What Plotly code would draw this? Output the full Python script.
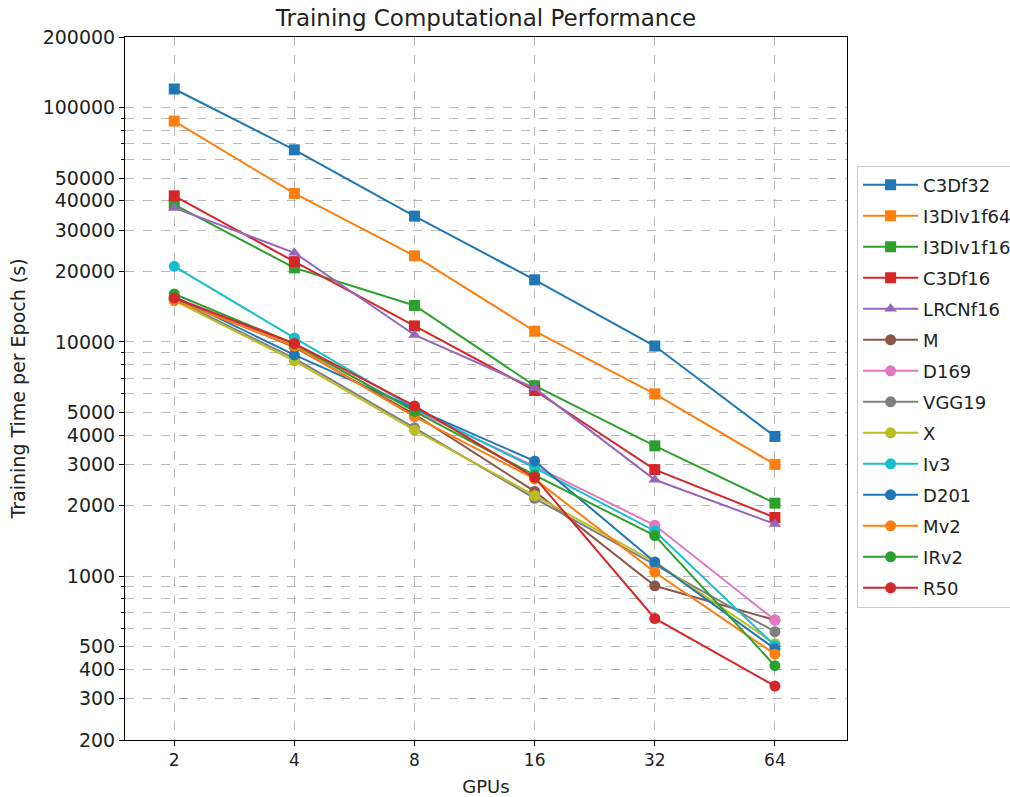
import plotly.graph_objects as go

gpus = ["2", "4", "8", "16", "32", "64"]

names = ["C3Df32", "I3DIv1f64", "I3DIv1f16", "C3Df16", "LRCNf16", "M", "D169",
         "VGG19", "X", "Iv3", "D201", "Mv2", "IRv2", "R50"]

c3df32 = [120000, 66000, 34400, 18400, 9600, 3950]
i3dv1f64 = [87500, 43000, 23300, 11100, 6000, 3000]
i3dv1f16 = [38500, 20700, 14300, 6500, 3600, 2050]
c3df16 = [42000, 22000, 11700, 6200, 2850, 1780]
lrcnf16 = [37300, 24000, 10700, 6350, 2580, 1670]
m = [15300, 9500, 4900, 2300, 910, 650]
d169 = [15500, 9700, 5100, 2950, 1650, 650]
vgg19 = [15200, 8500, 4300, 2150, 1120, 580]
x_net = [15000, 8300, 4200, 2210, 1150, 515]
iv3 = [21000, 10400, 5200, 2900, 1560, 505]
d201 = [15600, 8800, 5200, 3100, 1150, 490]
mv2 = [15000, 9600, 4800, 2600, 1040, 465]
irv2 = [16000, 9800, 5050, 2700, 1490, 415]
r50 = [15400, 9850, 5330, 2640, 660, 340]

series = [c3df32, i3dv1f64, i3dv1f16, c3df16, lrcnf16, m, d169, vgg19, x_net,
          iv3, d201, mv2, irv2, r50]
colors = ["#1f77b4", "#ff7f0e", "#2ca02c", "#d62728", "#9467bd", "#8c564b",
          "#e377c2", "#7f7f7f", "#bcbd22", "#17becf", "#1f77b4", "#ff7f0e",
          "#2ca02c", "#d62728"]
symbols = ["square"] * 4 + ["triangle-up"] + ["circle"] * 9

major_ticks = [200, 300, 400, 500, 1000, 2000, 3000, 4000, 5000, 10000, 20000,
               30000, 40000, 50000, 100000, 200000]
minor_ticks = [600, 700, 800, 900, 6000, 7000, 8000, 9000, 60000, 70000, 80000, 90000]

fig = go.Figure()
for name, ys, col, sym in zip(names, series, colors, symbols):
    fig.add_trace(go.Scatter(
        x=gpus, y=ys, name=name, legendgroup=name, mode="lines+markers",
        line=dict(color=col, width=2),
        marker=dict(symbol=sym, size=11, color=col),
    ))

font = "DejaVu Sans, Arial, sans-serif"
fig.update_layout(
    width=1010, height=797,
    margin=dict(l=125, r=163, t=37, b=57, autoexpand=False),
    paper_bgcolor="white", plot_bgcolor="white",
    font=dict(family=font, size=18, color="#222"),
    title=dict(text="Training Computational Performance", x=0.5, xref="paper",
               y=0.978, yanchor="middle", font=dict(size=23, color="#222")),
    showlegend=True,
    legend=dict(x=1.014, y=0.817, xanchor="left", yanchor="top",
                bgcolor="white", bordercolor="#cccccc", borderwidth=1,
                tracegroupgap=4.6, itemwidth=55, font=dict(size=18, family=font)),
    xaxis=dict(
        type="category", range=[-0.41, 5.6], automargin=False,
        title=dict(text="GPUs", standoff=10, font=dict(size=18)),
        showline=True, linecolor="black", linewidth=1, mirror=True,
        ticks="outside", ticklen=5, tickcolor="black",
        tickfont=dict(size=17),
        showgrid=True, gridcolor="#b8b8b8", griddash="dash", gridwidth=1,
        zeroline=False,
    ),
    yaxis=dict(
        type="log", range=[2.30103, 5.30103], automargin=False,
        title=dict(text="Training Time per Epoch (s)", standoff=12, font=dict(size=19)),
        tickmode="array", tickvals=major_ticks, ticktext=[str(v) for v in major_ticks],
        tickfont=dict(size=19),
        showline=True, linecolor="black", linewidth=1, mirror=True,
        ticks="outside", ticklen=5, tickcolor="black",
        showgrid=True, gridcolor="#b8b8b8", griddash="dash", gridwidth=1,
        zeroline=False,
        minor=dict(tickmode="array", tickvals=minor_ticks, ticks="outside", ticklen=3,
                   tickcolor="black", showgrid=True, gridcolor="#b8b8b8",
                   griddash="dash", gridwidth=1),
    ),
)

fig.write_html("out.html")
